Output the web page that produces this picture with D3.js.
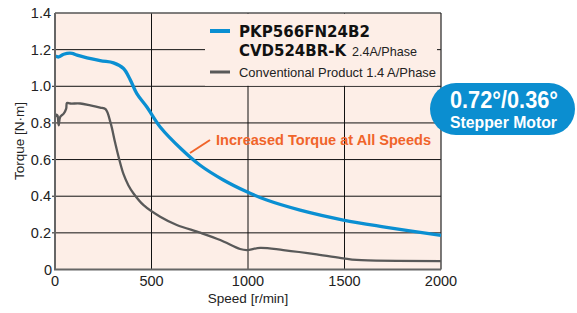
<!DOCTYPE html>
<html><head><meta charset="utf-8">
<script src="https://cdn.jsdelivr.net/npm/d3@7"></script>
<style>body{margin:0;background:#fff}svg{display:block}</style>
</head><body>
<svg id="c" width="577" height="313"></svg>
<script>
const xTicks = [0, 500, 1000, 1500, 2000];
const yTicks = [0, 0.2, 0.4, 0.6, 0.8, 1.0, 1.2, 1.4];
const yTickLabels = ["0", "0.2", "0.4", "0.6", "0.8", "1.0", "1.2", "1.4"];
const seriesNames = ["PKP566FN24B2", "CVD524BR-K", "2.4A/Phase", "Conventional Product 1.4 A/Phase"];
const newSpeed = [0,19,45,88,114,234,303,355,390,424,476,545,657,752,870,994,1097,1270,1494,1701,2000];
const newTorque = [1.165,1.16,1.175,1.18,1.17,1.14,1.128,1.097,1.035,0.96,0.887,0.778,0.655,0.569,0.49,0.424,0.379,0.324,0.270,0.233,0.186];
const oldSpeed = [2,8,13,19,27,45,58,62,79,131,183,234,262,288,312,333,355,380,407,459,545,631,752,856,959,994,1063,1183,1356,1494,1563,2000];
const oldTorque = [0.833,0.845,0.84,0.787,0.833,0.851,0.878,0.909,0.906,0.906,0.896,0.884,0.875,0.80,0.69,0.60,0.52,0.46,0.415,0.351,0.288,0.243,0.201,0.161,0.112,0.106,0.118,0.106,0.083,0.061,0.052,0.046];

const svg = d3.select("#c");
const L = 55, R = 441, T = 13, B = 269.5;
const x = d3.scaleLinear().domain([0, 2000]).range([L, R]);
const y = d3.scaleLinear().domain([0, 1.4]).range([B, T]);
const blue = "#0a8fd2", gray = "#595959", orange = "#f0642a", pink = "#fdeee7";

svg.append("rect").attr("x", L).attr("y", T).attr("width", R - L).attr("height", B - T).attr("fill", pink);

// grid
svg.append("g").selectAll("line").data(yTicks.slice(1, -1)).join("line")
  .attr("x1", L - 3).attr("x2", R).attr("y1", d => y(d)).attr("y2", d => y(d))
  .attr("stroke", "#111").attr("stroke-width", 1);
svg.append("g").selectAll("line").data(xTicks.slice(1, -1)).join("line")
  .attr("y1", T).attr("y2", B).attr("x1", d => x(d)).attr("x2", d => x(d))
  .attr("stroke", "#111").attr("stroke-width", 1);

// legend box covering grid
svg.append("rect").attr("x", 205).attr("y", T + 1).attr("width", 232).attr("height", y(1.0) - T - 1.5).attr("fill", pink);

// borders
svg.append("line").attr("x1", L).attr("x2", R).attr("y1", T).attr("y2", T).attr("stroke", "#555").attr("stroke-width", 1.5);
svg.append("line").attr("x1", R).attr("x2", R).attr("y1", T).attr("y2", B).attr("stroke", "#222").attr("stroke-width", 1.2);

// lines
const line = d3.line().curve(d3.curveCatmullRom.alpha(0.5)).x(d => x(d[0])).y(d => y(d[1]));
svg.append("path").datum(oldSpeed.map((s, i) => [s, oldTorque[i]])).attr("d", line)
  .attr("fill", "none").attr("stroke", gray).attr("stroke-width", 2.3);
svg.append("path").datum(newSpeed.map((s, i) => [s, newTorque[i]])).attr("d", line)
  .attr("fill", "none").attr("stroke", blue).attr("stroke-width", 3.3);

// axes
svg.append("line").attr("x1", L).attr("x2", L).attr("y1", T).attr("y2", B).attr("stroke", "#666").attr("stroke-width", 2);
svg.append("line").attr("x1", L - 1).attr("x2", R).attr("y1", B).attr("y2", B).attr("stroke", "#666").attr("stroke-width", 2);

const font = "'Liberation Sans', Arial, sans-serif";
svg.append("g").selectAll("text").data(yTicks).join("text")
  .attr("x", (d, i) => i === 0 ? 52 : 51).attr("y", d => y(d) + 5)
  .attr("text-anchor", "end").attr("font-family", font).attr("font-size", 14.5).attr("fill", "#222")
  .text((d, i) => yTickLabels[i]);
svg.append("g").selectAll("text").data(xTicks).join("text")
  .attr("x", d => x(d)).attr("y", 286)
  .attr("text-anchor", "middle").attr("font-family", font).attr("font-size", 14.5).attr("fill", "#222")
  .text(d => d);

svg.append("text").attr("x", x(1000)).attr("y", 303).attr("text-anchor", "middle")
  .attr("font-family", font).attr("font-size", 13.5).attr("fill", "#222").text("Speed [r/min]");
svg.append("text").attr("transform", "translate(24,141) rotate(-90)").attr("text-anchor", "middle")
  .attr("font-family", font).attr("font-size", 13.5).attr("fill", "#222").text("Torque [N·m]");

// legend
svg.append("line").attr("x1", 210).attr("x2", 230).attr("y1", 31).attr("y2", 31).attr("stroke", blue).attr("stroke-width", 4);
svg.append("line").attr("x1", 210).attr("x2", 230).attr("y1", 72).attr("y2", 72).attr("stroke", gray).attr("stroke-width", 3);
const bold = "'DejaVu Sans', sans-serif";
svg.append("text").attr("x", 239).attr("y", 36.5).attr("font-family", bold).attr("font-weight", "bold")
  .attr("font-size", 15).attr("fill", "#111").attr("textLength", 131).attr("lengthAdjust", "spacingAndGlyphs").text(seriesNames[0]);
svg.append("text").attr("x", 239).attr("y", 56).attr("font-family", bold).attr("font-weight", "bold")
  .attr("font-size", 15).attr("fill", "#111").attr("textLength", 107).attr("lengthAdjust", "spacingAndGlyphs").text(seriesNames[1]);
svg.append("text").attr("x", 352).attr("y", 56).attr("font-family", font)
  .attr("font-size", 13.5).attr("fill", "#222").attr("textLength", 65).attr("lengthAdjust", "spacingAndGlyphs").text(seriesNames[2]);
svg.append("text").attr("x", 239).attr("y", 77).attr("font-family", font)
  .attr("font-size", 13.5).attr("fill", "#222").attr("textLength", 197).attr("lengthAdjust", "spacingAndGlyphs").text(seriesNames[3]);

// annotation
svg.append("line").attr("x1", 190).attr("y1", 153).attr("x2", 210).attr("y2", 140)
  .attr("stroke", orange).attr("stroke-width", 2);
svg.append("text").attr("x", 216).attr("y", 145).attr("font-family", font).attr("font-weight", "bold")
  .attr("font-size", 15).attr("fill", orange).attr("textLength", 215).attr("lengthAdjust", "spacingAndGlyphs")
  .text("Increased Torque at All Speeds");

// badge
svg.append("rect").attr("x", 430).attr("y", 83).attr("width", 145).attr("height", 52).attr("rx", 26)
  .attr("fill", "#0b8ed0");
svg.append("text").attr("x", 450).attr("y", 108).attr("font-family", font).attr("font-weight", "bold")
  .attr("font-size", 24).attr("fill", "#fff").attr("textLength", 108).attr("lengthAdjust", "spacingAndGlyphs")
  .text("0.72°/0.36°");
svg.append("text").attr("x", 450).attr("y", 128).attr("font-family", font).attr("font-weight", "bold")
  .attr("font-size", 16).attr("fill", "#fff").attr("textLength", 107).attr("lengthAdjust", "spacingAndGlyphs")
  .text("Stepper Motor");
</script>
</body></html>
